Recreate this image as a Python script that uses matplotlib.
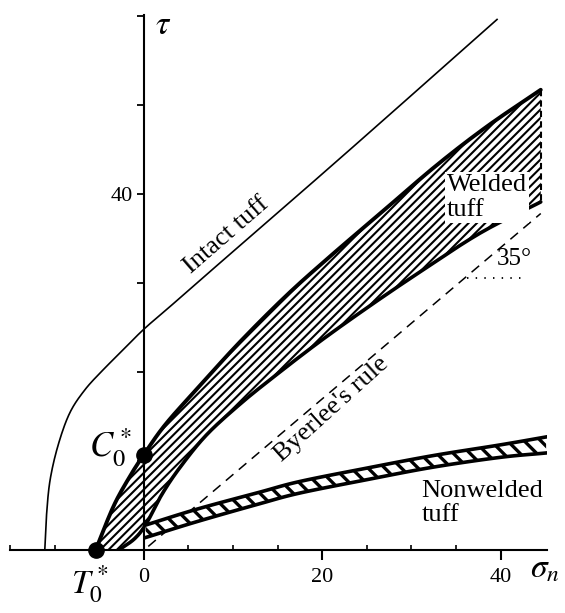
import matplotlib
matplotlib.use("Agg")
import matplotlib.pyplot as plt
import numpy as np

plt.rcParams['font.family'] = ['Liberation Serif', 'DejaVu Serif']
plt.rcParams['mathtext.fontset'] = 'stix'

# ---------------- data ----------------
# Intact tuff envelope
intact_sigma = [-11.1, -10.9, -10.5, -9.6, -8.3, -6.6, -4.6, -2.4, 0.0, 3.0, 6.3, 22.0, 39.6]
intact_tau   = [0.0, 4.0, 7.9, 11.8, 15.4, 18.0, 20.2, 22.4, 24.8, 27.4, 30.3, 44.0, 59.6]

# Welded tuff band (upper and lower envelopes)
weld_up_sigma = [-5.4, -3.4, -1.6, 0.0, 2.5, 6.6, 10.8, 16.0, 20.9, 26.5, 32.8, 38.5, 44.5]
weld_up_tau   = [0.0, 4.9, 8.2, 10.7, 14.2, 18.8, 23.4, 28.6, 33.0, 37.8, 43.2, 47.6, 51.7]
weld_lo_sigma = [-2.8, -1.0, 0.3, 2.0, 4.0, 7.0, 10.8, 14.5, 19.7, 25.3, 30.9, 37.7, 44.5]
weld_lo_tau   = [0.0, 1.3, 3.0, 6.2, 9.2, 12.9, 16.4, 19.4, 23.4, 27.4, 31.2, 35.6, 39.1]

# Nonwelded tuff band
nonw_sigma  = [0.2, 6.0, 13.0, 17.5, 25.0, 32.4, 39.9, 45.1]
nonw_up_tau = [2.8, 4.6, 6.5, 7.7, 9.2, 10.6, 11.8, 12.7]
nonw_lo_tau = [1.4, 3.2, 5.2, 6.4, 7.9, 9.3, 10.4, 10.9]

# Byerlee's rule (dashed)
byer_sigma = [0.5, 44.5]
byer_tau   = [0.4, 37.8]

# Special points
T0_point = (-5.4, 0.0)
C0_point = (0.0, 10.7)

# Axes ticks
x_major_ticks = [0, 20, 40]
x_major_labels = ['0', '20', '40']
x_minor_ticks = [-15, -10, -5, 5, 10, 15, 25, 30, 35]
y_ticks = [10, 20, 30, 40, 50, 60]
y_tick_labels = ['', '', '', '40', '', '']


def smooth(xs, ys, n=12):
    """Catmull-Rom rendering path through the read points (for drawing only)."""
    p = np.column_stack([xs, ys]).astype(float)
    p = np.vstack([2 * p[0] - p[1], p, 2 * p[-1] - p[-2]])
    out = []
    t = np.linspace(0, 1, n, endpoint=False)[:, None]
    for i in range(1, len(p) - 2):
        p0, p1, p2, p3 = p[i - 1], p[i], p[i + 1], p[i + 2]
        seg = 0.5 * ((2 * p1) + (-p0 + p2) * t + (2 * p0 - 5 * p1 + 4 * p2 - p3) * t ** 2
                     + (-p0 + 3 * p1 - 3 * p2 + p3) * t ** 3)
        out.append(seg)
    out.append(p[-2][None, :])
    out = np.vstack(out)
    return out[:, 0], out[:, 1]


# ---------------- figure ----------------
fig = plt.figure(figsize=(5.65, 6.13), dpi=100)
ax = fig.add_axes([10 / 565, 63 / 613, 537 / 565, 535 / 613])
ax.set_xlim(-15.0, 45.2)
ax.set_ylim(0, 60.1)

for s in ['top', 'right']:
    ax.spines[s].set_visible(False)
ax.spines['left'].set_position(('data', 0))
ax.spines['left'].set_linewidth(1.5)
ax.spines['bottom'].set_linewidth(1.5)

ax.set_xticks(x_major_ticks)
ax.set_xticklabels(x_major_labels)
ax.set_xticks(x_minor_ticks, minor=True)
ax.set_yticks(y_ticks)
ax.set_yticklabels(y_tick_labels)
ax.tick_params(axis='x', which='major', direction='out', length=7, width=1.5,
               labelsize=16, pad=6)
ax.tick_params(axis='x', which='minor', direction='in', length=3.5, width=1.2)
ax.tick_params(axis='y', which='major', direction='out', length=5, width=1.3,
               labelsize=16, pad=3)

# Intact tuff
ix, iy = smooth(intact_sigma, intact_tau)
ax.plot(ix, iy, color='black', lw=1.2, clip_on=False)

# Welded tuff band
ux, uy = smooth(weld_up_sigma, weld_up_tau)
lx, ly = smooth(weld_lo_sigma, weld_lo_tau)
ws = np.concatenate([ux, lx[::-1]])
wt = np.concatenate([uy, ly[::-1]])
wpoly = ax.fill(ws, wt, facecolor='none', edgecolor='black', lw=0,
                hatch='////', zorder=2)[0]
if hasattr(wpoly, 'set_hatch_linewidth'):
    wpoly.set_hatch_linewidth(1.5)
ax.plot(ux, uy, color='black', lw=2.8, solid_capstyle='round', zorder=3)
ax.plot(lx, ly, color='black', lw=2.6, solid_capstyle='round', zorder=3)
ax.plot([weld_up_sigma[-1], weld_lo_sigma[-1]], [weld_up_tau[-1], weld_lo_tau[-1]],
        color='black', lw=1.5, ls=(0, (3, 2)), zorder=3)

# Nonwelded tuff band
nux, nuy = smooth(nonw_sigma, nonw_up_tau)
nlx, nly = smooth(nonw_sigma, nonw_lo_tau)
ns = np.concatenate([nux, nlx[::-1]])
nt = np.concatenate([nuy, nly[::-1]])
npoly = ax.fill(ns, nt, facecolor='white', edgecolor='black', lw=0,
                hatch='\\\\', zorder=4)[0]
if hasattr(npoly, 'set_hatch_linewidth'):
    npoly.set_hatch_linewidth(2.4)
ax.plot(nux, nuy, color='black', lw=2.6, zorder=5)
ax.plot(nlx, nly, color='black', lw=2.6, zorder=5)

# Byerlee's rule
ax.plot(byer_sigma, byer_tau, color='black', lw=1.1, ls=(0, (6.5, 4.6)), zorder=1)

# 35 degree reference (dotted horizontal)
ax.plot([36.2, 42.7], [30.5, 30.5], color='black', lw=1.3, ls=(0, (0.8, 4)), zorder=1)
ax.text(39.6, 32.7, '35°', fontsize=18, ha='left', va='center')

# Special points
ax.plot(*T0_point, 'o', color='black', ms=11, clip_on=False, zorder=6)
ax.plot(*C0_point, 'o', color='black', ms=11, clip_on=False, zorder=6)
ax.text(-6.0, -1.5, r'$T_0^*$', fontsize=24, ha='center', va='top')
ax.text(-1.3, 11.5, r'$C_0^*$', fontsize=25, ha='right', va='center')

# Axis labels
ax.text(1.3, 58.9, r'$\tau$', fontsize=24, ha='left', va='center')
ax.text(43.3, -2.2, r'$\sigma_n$', fontsize=24, ha='left', va='center', clip_on=False)

# Labels on curves
ax.text(9.3, 35.3, 'Intact tuff', fontsize=19, rotation=41, ha='center', va='center',
        rotation_mode='anchor')
ax.text(21.0, 15.8, "Byerlee's rule", fontsize=19, rotation=42, ha='center', va='center',
        rotation_mode='anchor')
ax.text(34.0, 39.6, 'Welded\ntuff', fontsize=19, ha='left', va='center', linespacing=1.15,
        zorder=7, bbox=dict(facecolor='white', edgecolor='none', pad=1.5))
ax.text(31.1, 5.3, 'Nonwelded\ntuff', fontsize=19, ha='left', va='center', linespacing=1.15)

fig.savefig('out.png', dpi=100)
